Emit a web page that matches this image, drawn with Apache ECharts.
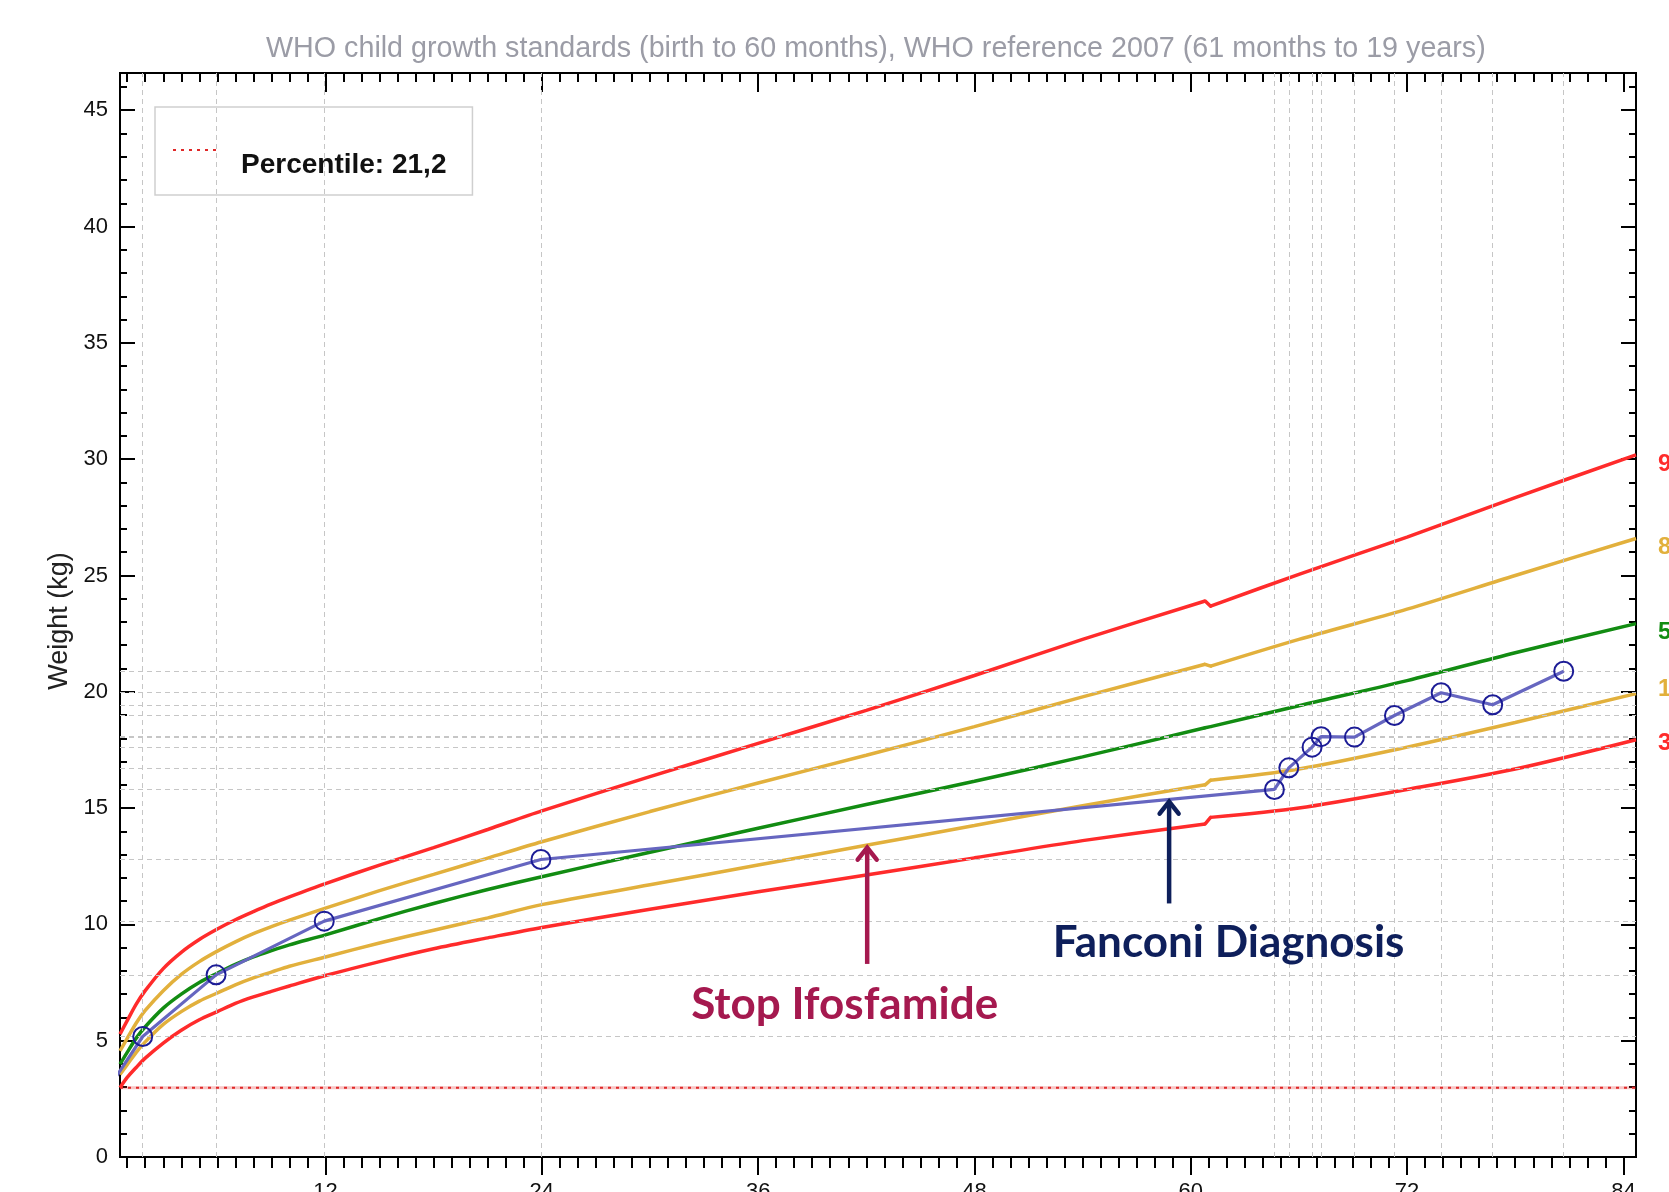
<!DOCTYPE html>
<html><head><meta charset="utf-8">
<script src="https://cdn.jsdelivr.net/npm/echarts@6.0.0/dist/echarts.min.js"></script>
<style>html,body{margin:0;padding:0;background:#fff;overflow:hidden}#c{width:1669px;height:1192px}</style>
</head><body><div id="c"></div>
<script>
// ---- axis ranges / ticks ----
const xMin = 0.6, xMax = 84.7, yMin = 0, yMax = 46.6;
const xMajorTicks = [12, 24, 36, 48, 60, 72, 84];
const xMinorTicks = Array.from({length: 84}, (_, i) => i + 1);
const yMajorTicks = [0, 5, 10, 15, 20, 25, 30, 35, 40, 45];
const yMinorTicks = Array.from({length: 46}, (_, i) => i + 1);

// ---- WHO percentile curves (months, kg) ----
// standards part (birth to 60 months) and reference 2007 part (61 months on)
const curveMonthsA = [0.6,1,1.5,2,3,4,5,6,7,8,9,10,12,15,18,21,24,30,36,42,48,54,60.8];
const curveMonthsB = [61.1,66,72,78,84.7];
const p97A = [5.28,5.86,6.57,7.15,8.1,8.8,9.35,9.8,10.2,10.55,10.88,11.18,11.75,12.55,13.3,14.08,14.88,16.35,17.78,19.2,20.7,22.25,23.9];
const p97B = [23.68,25.05,26.65,28.35,30.18];
const p85A = [4.56,5.1,5.76,6.3,7.15,7.85,8.4,8.85,9.25,9.6,9.9,10.18,10.7,11.45,12.15,12.85,13.55,14.85,16.08,17.27,18.5,19.78,21.18];
const p85B = [21.1,22.25,23.55,25.0,26.59];
const p50A = [3.99,4.5,5.11,5.6,6.4,7.0,7.5,7.9,8.28,8.6,8.87,9.12,9.55,10.25,10.9,11.5,12.05,13.1,14.13,15.15,16.15,17.2,18.45];
const p50B = [18.5,19.4,20.48,21.68,22.93];
const p15A = [3.55,3.97,4.5,4.95,5.7,6.25,6.7,7.05,7.4,7.7,7.95,8.2,8.6,9.2,9.75,10.28,10.85,11.7,12.55,13.4,14.25,15.1,16.0];
const p15B = [16.2,16.68,17.62,18.68,19.92];
const p3A  = [2.98,3.42,3.85,4.25,4.9,5.45,5.9,6.25,6.6,6.88,7.12,7.35,7.8,8.4,8.95,9.42,9.87,10.65,11.4,12.12,12.86,13.6,14.32];
const p3B  = [14.6,15.0,15.8,16.68,17.94];
const curveLabels = ['97', '85', '50', '15', '3'];

// ---- patient measurements ----
const patientMonths  = [0, 1.86, 5.93, 11.93, 23.95, 64.64, 65.44, 66.73, 67.23, 69.08, 71.30, 73.89, 76.75, 80.69];
const patientWeights = [3.0, 5.18, 7.83, 10.14, 12.79, 15.80, 16.73, 17.62, 18.07, 18.05, 18.98, 19.96, 19.44, 20.88];

// ---- percentile reference line ----
const percentileName = 'Percentile: 21,2';
const percentileKg = 2.98;

// ---- annotations (data coords) ----
const annotArrowMonths = [42.05, 58.8];
const annotArrowFrom   = [8.3, 10.9];
const annotArrowTo     = [13.34, 15.32];
const annotTextMonths  = [40.8, 62.1];
const annotTextKg      = [6.54, 9.21];
const annotTexts       = ['Stop Ifosfamide', 'Fanconi Diagnosis'];

const RED = '#ff2b2b', ORANGE = '#e2b03c', GREEN = '#128c12';
const curveColors = [RED, ORANGE, GREEN, ORANGE, RED];
const endLabelDy = [9, 9, 9, -4, 4];
const curvesA = [p97A, p85A, p50A, p15A, p3A];
const curvesB = [p97B, p85B, p50B, p15B, p3B];
const FONT = 'Liberation Sans, Arial, sans-serif';

function xAxisDef(pos, ticks, len, inside, labels) {
  return {
    type: 'value', min: xMin, max: xMax, position: pos,
    splitLine: {show: false},
    axisLine: {show: true, onZero: false, lineStyle: {color: '#000', width: 2}},
    axisTick: {show: true, inside: inside, length: len, customValues: ticks, lineStyle: {color: '#000', width: 2}},
    axisLabel: labels ? {show: true, customValues: ticks, margin: 24, fontSize: 22, color: '#111', fontFamily: FONT} : {show: false}
  };
}
function yAxisDef(pos, ticks, len, labels) {
  const a = {
    type: 'value', min: yMin, max: yMax, position: pos,
    splitLine: {show: false},
    axisLine: {show: true, onZero: false, lineStyle: {color: '#000', width: 2}},
    axisTick: {show: true, inside: true, length: len, customValues: ticks, lineStyle: {color: '#000', width: 2}},
    axisLabel: labels ? {show: true, customValues: ticks, margin: 12, fontSize: 22, color: '#111', fontFamily: FONT} : {show: false}
  };
  if (labels) {
    a.name = 'Weight (kg)'; a.nameLocation = 'middle'; a.nameRotate = 90; a.nameGap = 47;
    a.nameTextStyle = {fontSize: 27, color: '#222', fontFamily: FONT, padding: [0, 12, 0, 0]};
  }
  return a;
}

const series = [];
// reference dashed grid lines at each measurement
series.push({
  name: 'refs', type: 'line', z: 1, silent: true, symbol: 'none',
  data: patientMonths.map((m, i) => [m, patientWeights[i]]),
  lineStyle: {opacity: 0},
  markLine: {
    silent: true, symbol: ['none', 'none'], label: {show: false}, animation: false,
    lineStyle: {type: [5, 4], color: '#c6c6c6', width: 1},
    emphasis: {disabled: true},
    data: patientMonths.slice(1).map(m => ({xAxis: m}))
      .concat(patientWeights.slice(1).map(w => ({yAxis: w})))
  }
});
// percentile line
series.push({
  name: 'pctBase', type: 'line', z: 2, silent: true, symbol: 'none',
  data: [[xMin, percentileKg], [xMax, percentileKg]],
  lineStyle: {color: 'rgba(225,50,50,0.28)', width: 3}
});
series.push({
  name: percentileName, type: 'line', z: 2, silent: true, symbol: 'none',
  data: [[xMin, percentileKg], [xMax, percentileKg]],
  lineStyle: {color: '#e02828', width: 2, type: [3, 5]}
});
curvesA.forEach((a, k) => {
  const b = curvesB[k];
  const lastA = [curveMonthsA[curveMonthsA.length - 1], a[a.length - 1]];
  const firstB = [curveMonthsB[0], b[0]];
  // smoothed segment A, break, smoothed segment B
  const data = curveMonthsA.map((m, i) => [m, a[i]])
    .concat([[lastA[0], null]])
    .concat(curveMonthsB.map((m, i) => [m, b[i]]));
  series.push({
    name: 'P' + curveLabels[k], type: 'line', z: 3, silent: true, symbol: 'none',
    smooth: 0.3, connectNulls: false,
    data: data,
    lineStyle: {color: curveColors[k], width: 3.5},
    endLabel: {show: true, formatter: curveLabels[k], color: curveColors[k], fontSize: 24,
      fontWeight: 'bold', fontFamily: FONT, distance: 22, offset: [0, endLabelDy[k]]}
  });
  // straight step joining the two references
  series.push({
    name: 'P' + curveLabels[k] + 'step', type: 'line', z: 3, silent: true, symbol: 'none',
    data: [lastA, firstB],
    lineStyle: {color: curveColors[k], width: 3.5, cap: 'round'}
  });
});
series.push({
  name: 'patient', type: 'line', z: 5, silent: true,
  data: patientMonths.map((m, i) => [m, patientWeights[i]]),
  symbol: 'circle', symbolSize: 19, showAllSymbol: true,
  itemStyle: {color: 'rgba(0,0,0,0)', borderColor: '#1c1c96', borderWidth: 2},
  lineStyle: {color: '#6666c0', width: 3.2}
});

const option = {
  animation: false,
  backgroundColor: '#fff',
  textStyle: {fontFamily: FONT},
  title: {
    text: 'WHO child growth standards (birth to 60 months), WHO reference 2007 (61 months to 19 years)',
    left: 266, top: 35, padding: 0,
    textStyle: {fontSize: 28.7, fontWeight: 'normal', color: '#9b9ca6', fontFamily: FONT}
  },
  legend: {
    data: [percentileName], left: 155, top: 107, orient: 'horizontal',
    padding: [13, 26, 15, 17], itemWidth: 46, itemHeight: 20,
    borderColor: '#cfcfcf', borderWidth: 1.5, selectedMode: false,
    itemStyle: {opacity: 0},
    formatter: function (name) { return '\n' + name; },
    textStyle: {fontSize: 28, fontWeight: 'bold', color: '#111', fontFamily: FONT, lineHeight: 30, padding: [0, 0, 0, 17]}
  },
  grid: {left: 120, right: 33, top: 73, bottom: 35, containLabel: false, outerBoundsMode: 'none'},
  xAxis: [
    xAxisDef('bottom', xMajorTicks, 18, false, true),
    xAxisDef('bottom', xMinorTicks, 11, false, false),
    xAxisDef('top', xMajorTicks, 19, true, false),
    xAxisDef('top', xMinorTicks, 9, true, false)
  ],
  yAxis: [
    yAxisDef('left', yMajorTicks, 15, true),
    yAxisDef('left', yMinorTicks, 7, false),
    yAxisDef('right', yMajorTicks, 15, false),
    yAxisDef('right', yMinorTicks, 7, false)
  ],
  series: series
};

const chart = echarts.init(document.getElementById('c'), null, {renderer: 'canvas'});
chart.setOption(option);

const patientIdx = series.length - 1;
const annotColors = ['#a5194f', '#0e1f5b'];
const graphics = [];
annotArrowMonths.forEach((m, i) => {
  const b = chart.convertToPixel({seriesIndex: patientIdx}, [m, annotArrowFrom[i]]);
  const t = chart.convertToPixel({seriesIndex: patientIdx}, [m, annotArrowTo[i]]);
  graphics.push({type: 'line', z: 100, shape: {x1: b[0], y1: b[1], x2: t[0], y2: t[1] + 2},
    style: {stroke: annotColors[i], lineWidth: 4.5}});
  graphics.push({type: 'polyline', z: 100, shape: {points: [[t[0] - 9.5, t[1] + 13], [t[0], t[1] + 1], [t[0] + 9.5, t[1] + 13]]},
    style: {stroke: annotColors[i], lineWidth: 4.5, fill: null, lineCap: 'round', lineJoin: 'miter'}});
  const p = chart.convertToPixel({seriesIndex: patientIdx}, [annotTextMonths[i], annotTextKg[i]]);
  graphics.push({type: 'text', z: 100, x: p[0], y: p[1],
    style: {text: annotTexts[i], fill: annotColors[i], fontSize: 44, fontWeight: 'bold',
      fontFamily: 'Lato, "Open Sans", sans-serif', align: 'center', verticalAlign: 'middle'}});
});
chart.setOption({graphic: graphics});
</script>
</body></html>
